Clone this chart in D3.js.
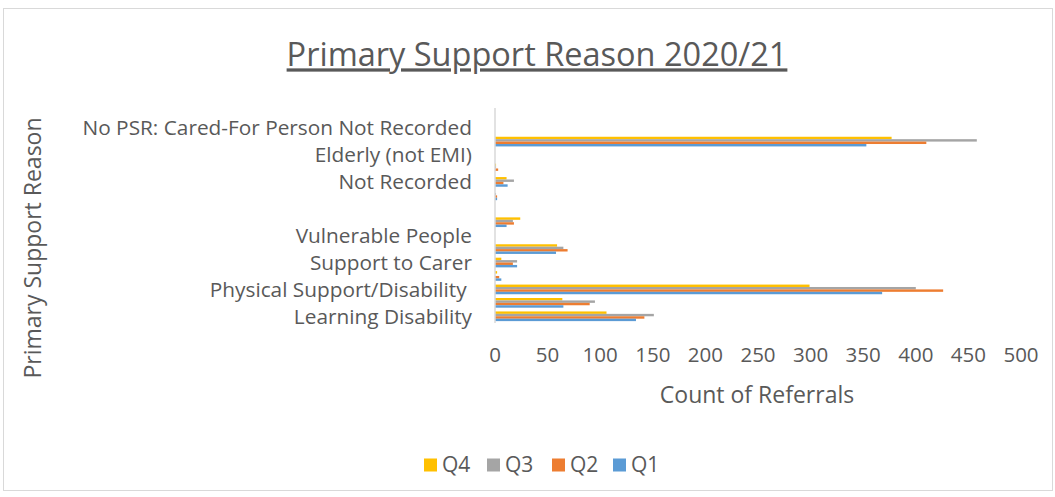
<!DOCTYPE html>
<html lang="en">
<head>
    <meta charset="UTF-8">
    <title>Primary Support Reason 2020/21</title>
    <style>
        body { margin: 0; background-color: #fff; }
        svg { display: block; font-family: "Open Sans", "Noto Sans", sans-serif; }
        .lbl { fill: #595959; }
    </style>
</head>
<body>
<script src="https://d3js.org/d3.v7.min.js"></script>
<script>
    // categories listed bottom to top, as in the source sheet
    var categories = [
        "Learning Disability",
        "Mental Health Support",
        "Physical Support/Disability ",
        "Sensory Support",
        "Support to Carer",
        "Social Support",
        "Vulnerable People",
        "Memory and Cognition",
        "",
        "Substance Misuse",
        "Not Recorded",
        "Asylum Seeker",
        "Elderly (not EMI)",
        "Older People",
        "No PSR: Cared-For Person Not Recorded",
        "Other"
    ];

    var seriesNames = ["Q4", "Q3", "Q2", "Q1"];

    var q1 = [134, 65, 368, 6, 21, 58, 0, 11, 0, 2, 12, 0, 0, 353, 0, 0];
    var q2 = [142, 90, 426, 4, 17, 69, 0, 18, 0, 2, 8, 3, 0, 410, 0, 0];
    var q3 = [151, 95, 400, 0, 21, 65, 0, 17, 0, 1, 18, 1, 0, 458, 0, 0];
    var q4 = [106, 64, 299, 2, 6, 59, 0, 24, 0, 0, 11, 1, 0, 377, 0, 0];

    var xTicks = [0, 50, 100, 150, 200, 250, 300, 350, 400, 450, 500];

    var colors = { Q4: "#FFC000", Q3: "#A5A5A5", Q2: "#ED7D31", Q1: "#5B9BD5" };
    var seriesValues = { Q1: q1, Q2: q2, Q3: q3, Q4: q4 };

    var W = 1055, H = 497;

    var svg = d3.select("body").append("svg")
        .attr("width", W)
        .attr("height", H);

    // chart border
    svg.append("rect")
        .attr("x", 3.5).attr("y", 8.5)
        .attr("width", 1049).attr("height", 482)
        .attr("fill", "#fff")
        .attr("stroke", "#d9d9d9");

    var x = d3.scaleLinear().domain([0, 500]).range([495, 1021]);

    var idx = d3.range(categories.length);
    var y = d3.scaleBand()
        .domain(idx.slice().reverse())
        .range([108, 323])
        .paddingInner(0.28)
        .paddingOuter(0.14);

    var ySub = d3.scaleBand()
        .domain(seriesNames)
        .range([0, y.bandwidth()]);

    // bars
    seriesNames.forEach(function (s) {
        svg.append("g").selectAll("rect")
            .data(idx)
            .enter()
            .append("rect")
            .attr("x", x(0))
            .attr("y", function (i) { return y(i) + ySub(s); })
            .attr("width", function (i) { return x(seriesValues[s][i]) - x(0); })
            .attr("height", ySub.bandwidth())
            .attr("fill", colors[s]);
    });

    // category axis line
    svg.append("line")
        .attr("x1", x(0)).attr("x2", x(0))
        .attr("y1", 108).attr("y2", 323)
        .attr("stroke", "#d9d9d9")
        .attr("stroke-width", 1.5);

    // category labels, every other one like Excel does
    svg.append("g").selectAll("text")
        .data(idx.filter(function (i) { return i % 2 === 0; }))
        .enter()
        .append("text")
        .attr("class", "lbl")
        .attr("x", 472)
        .attr("y", function (i) { return y(i) + y.bandwidth() / 2; })
        .attr("dy", "0.35em")
        .attr("text-anchor", "end")
        .style("white-space", "pre")
        .style("font-size", "20.8px")
        .text(function (i) { return categories[i]; });

    // value axis labels
    svg.append("g").selectAll("text")
        .data(xTicks)
        .enter()
        .append("text")
        .attr("class", "lbl")
        .attr("x", function (d) { return x(d); })
        .attr("y", 355)
        .attr("dy", "0.35em")
        .attr("text-anchor", "middle")
        .style("font-size", "20.5px")
        .text(function (d) { return d; });

    // title
    svg.append("text")
        .attr("class", "lbl")
        .attr("x", 537)
        .attr("y", 55)
        .attr("dy", "0.35em")
        .attr("text-anchor", "middle")
        .style("font-size", "32.5px")
        .style("text-decoration", "underline")
        .text("Primary Support Reason 2020/21");

    // axis titles
    svg.append("text")
        .attr("class", "lbl")
        .attr("x", 757)
        .attr("y", 395)
        .attr("dy", "0.35em")
        .attr("text-anchor", "middle")
        .style("font-size", "23px")
        .text("Count of Referrals");

    svg.append("text")
        .attr("class", "lbl")
        .attr("transform", "translate(33,248) rotate(-90)")
        .attr("dy", "0.35em")
        .attr("text-anchor", "middle")
        .style("font-size", "23px")
        .text("Primary Support Reason");

    // legend
    var legendX = [424, 487, 552, 613];
    var legend = svg.append("g").selectAll("g")
        .data(seriesNames)
        .enter()
        .append("g")
        .attr("transform", function (d, i) { return "translate(" + legendX[i] + ",465)"; });

    legend.append("rect")
        .attr("x", 0).attr("y", -6.5)
        .attr("width", 13).attr("height", 13)
        .attr("fill", function (d) { return colors[d]; });

    legend.append("text")
        .attr("class", "lbl")
        .attr("x", 18)
        .attr("dy", "0.35em")
        .style("font-size", "21px")
        .text(function (d) { return d; });
</script>
</body>
</html>
